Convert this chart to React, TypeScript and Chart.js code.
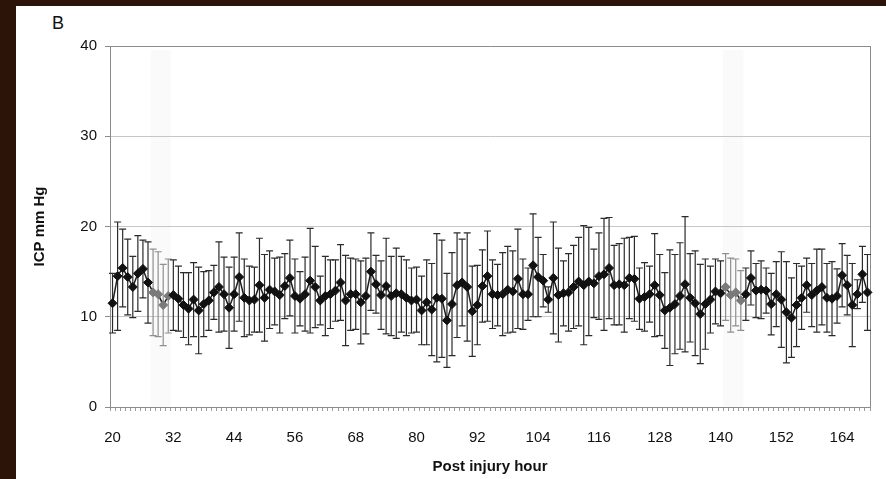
import React, { useEffect, useRef } from "react";
import { Chart, registerables } from "chart.js";

Chart.register(...registerables);

// Post-injury hours (categories), one per hour
const HOURS: number[] = Array.from({ length: 150 }, (_, i) => 20 + i);

// Mean ICP (mm Hg) per hour
const MEAN_ICP: number[] = [
  11.5, 14.5, 15.4, 14.4, 13.3, 14.8, 15.3, 13.8, 12.7, 12.5,
  11.3, 12.3, 12.4, 12.0, 11.3, 10.9, 11.9, 10.7, 11.4, 11.8,
  12.7, 13.3, 12.5, 11.0, 12.5, 14.4, 12.1, 11.8, 11.9, 13.5,
  12.1, 13.0, 12.8, 12.4, 13.4, 14.3, 12.3, 12.0, 12.5, 14.0,
  13.3, 11.8, 12.3, 12.5, 12.9, 13.8, 11.8, 12.5, 12.5, 11.6,
  12.3, 15.0, 13.6, 12.4, 13.4, 12.3, 12.6, 12.5, 12.1, 11.8,
  11.9, 10.7, 11.6, 10.8, 12.1, 12.0, 9.6, 11.4, 13.5, 13.8,
  13.3, 10.6, 11.3, 13.4, 14.5, 12.5, 12.4, 12.5, 13.0, 12.8,
  14.2, 12.5, 12.5, 15.7, 14.4, 14.0, 11.9, 14.3, 12.4, 12.6,
  12.7, 13.3, 13.9, 13.5, 13.9, 13.7, 14.5, 14.7, 15.4, 13.5,
  13.6, 13.5, 14.3, 14.2, 12.0, 12.2, 12.5, 13.5, 12.4, 10.7,
  11.0, 11.4, 12.3, 13.6, 12.1, 11.5, 10.3, 11.4, 11.9, 12.8,
  12.6, 13.3, 12.4, 12.7, 11.8, 12.5, 14.3, 12.9, 13.0, 12.9,
  11.4, 12.5, 11.9, 10.5, 9.9, 11.3, 12.1, 13.5, 12.4, 12.9,
  13.3, 12.1, 12.0, 12.3, 14.6, 13.5, 11.3, 12.5, 14.7, 12.7,
];

// Error bar half-length (SD, mm Hg) per hour
const SD_ICP: number[] = [
  3.3, 6.0, 4.3, 4.2, 3.4, 4.2, 3.2, 4.5, 4.8, 4.7,
  4.5, 4.1, 3.9, 3.6, 3.6, 4.0, 4.1, 4.8, 3.6, 3.3,
  3.0, 5.0, 4.1, 4.5, 4.1, 4.9, 4.3, 3.8, 3.6, 5.2,
  4.8, 4.3, 3.7, 4.2, 3.6, 4.2, 4.1, 3.0, 4.1, 5.8,
  4.5, 2.7, 4.4, 3.8, 3.4, 4.2, 5.0, 4.0, 3.9, 4.6,
  4.2, 4.3, 3.2, 3.8, 5.3, 4.4, 5.0, 4.2, 4.2, 3.6,
  3.6, 3.8, 4.7, 5.1, 7.1, 6.5, 5.2, 5.7, 5.8, 4.8,
  6.0, 5.0, 4.4, 4.0, 5.0, 3.8, 3.4, 4.6, 4.8, 4.5,
  5.5, 3.9, 2.9, 5.7, 4.4, 2.9, 1.4, 6.2, 5.2, 3.6,
  4.3, 4.6, 4.9, 6.6, 6.0, 3.8, 4.8, 6.2, 5.6, 4.4,
  4.5, 5.2, 4.5, 4.7, 3.4, 3.8, 3.1, 5.7, 4.5, 4.2,
  6.4, 5.5, 5.9, 7.5, 4.9, 5.8, 5.5, 5.0, 3.7, 3.6,
  3.6, 3.7, 4.1, 3.7, 3.3, 2.9, 3.0, 3.0, 3.2, 2.5,
  3.4, 3.6, 5.3, 5.6, 4.4, 4.6, 3.5, 3.0, 3.5, 4.6,
  4.2, 3.8, 4.1, 3.0, 3.5, 3.3, 4.6, 1.6, 3.1, 4.2,
];

const Y_MIN = 0;
const Y_MAX = 40;
const Y_STEP = 10;
const X_LABEL_EVERY = 12;
// hours whose markers appear faded in the original scan
const FADED_HOURS: number[] = [28, 29, 30, 31, 141, 142, 143, 144];

const FONT = '"Liberation Sans", Arial, Helvetica, sans-serif';

const isFaded = (i: number) => FADED_HOURS.includes(HOURS[i]);

const bandPlugin = {
  id: "fadeBands",
  beforeDraw(chart: any) {
    const { ctx, chartArea } = chart;
    const xs = chart.scales.x;
    const groups: number[][] = [];
    FADED_HOURS.forEach((h) => {
      const idx = HOURS.indexOf(h);
      const last = groups[groups.length - 1];
      if (last && idx === last[last.length - 1] + 1) last.push(idx);
      else groups.push([idx]);
    });
    ctx.save();
    ctx.fillStyle = "#fafafa";
    groups.forEach((g) => {
      const x0 = xs.getPixelForValue(g[0] - 0.5);
      const x1 = xs.getPixelForValue(g[g.length - 1] + 0.5);
      ctx.fillRect(x0, chartArea.top + 4, x1 - x0, chartArea.bottom - chartArea.top - 4);
    });
    ctx.restore();
  },
};

const errorBarPlugin = {
  id: "errorBars",
  beforeDatasetsDraw(chart: any) {
    const { ctx, chartArea } = chart;
    const xs = chart.scales.x;
    const ys = chart.scales.y;
    ctx.save();
    // plot frame (right side)
    ctx.strokeStyle = "#8c8c8c";
    ctx.lineWidth = 1;
    ctx.beginPath();
    ctx.moveTo(Math.round(chartArea.right) + 0.5, chartArea.top);
    ctx.lineTo(Math.round(chartArea.right) + 0.5, chartArea.bottom);
    ctx.stroke();
    MEAN_ICP.forEach((m, i) => {
      const x = xs.getPixelForValue(i);
      const top = ys.getPixelForValue(m + SD_ICP[i]);
      const bot = ys.getPixelForValue(m - SD_ICP[i]);
      ctx.strokeStyle = isFaded(i) ? "#8f8f8f" : "#2b2b2b";
      ctx.lineWidth = 1.2;
      ctx.beginPath();
      ctx.moveTo(x, top);
      ctx.lineTo(x, bot);
      ctx.moveTo(x - 3.5, top);
      ctx.lineTo(x + 3.5, top);
      ctx.moveTo(x - 3.5, bot);
      ctx.lineTo(x + 3.5, bot);
      ctx.stroke();
    });
    ctx.restore();
  },
};

export default function App() {
  const canvasRef = useRef<HTMLCanvasElement | null>(null);

  useEffect(() => {
    if (!canvasRef.current) return;
    const pointColors = MEAN_ICP.map((_, i) => (isFaded(i) ? "#7a7a7a" : "#111111"));
    const chart = new Chart(canvasRef.current, {
      type: "line",
      data: {
        labels: HOURS.map(String),
        datasets: [
          {
            data: MEAN_ICP,
            borderColor: "#1c1c1c",
            borderWidth: 1.5,
            pointStyle: "rectRot",
            pointRadius: 4.5,
            pointBackgroundColor: pointColors,
            pointBorderColor: pointColors,
            pointBorderWidth: 1,
            tension: 0,
          },
        ],
      },
      options: {
        responsive: false,
        animation: false,
        layout: { padding: { left: 0, right: 16, top: 40, bottom: 0 } },
        plugins: { legend: { display: false }, tooltip: { enabled: false } },
        scales: {
          x: {
            type: "category",
            offset: true,
            grid: {
              display: true,
              offset: true,
              drawOnChartArea: false,
              drawTicks: true,
              tickLength: 4,
              color: "#9a9a9a",
              tickColor: "#9a9a9a",
            },
            border: { display: true, color: "#8c8c8c", width: 1 },
            ticks: {
              autoSkip: false,
              maxRotation: 0,
              minRotation: 0,
              padding: 18,
              color: "#111",
              font: { family: FONT, size: 15 },
              callback: (_v: any, i: number) => (i % X_LABEL_EVERY === 0 ? String(HOURS[i]) : ""),
            },
            title: {
              display: true,
              text: "Post injury hour",
              color: "#111",
              font: { family: FONT, size: 15, weight: "bold" },
              padding: { top: 0, bottom: 3 },
            },
            afterFit: (s: any) => {
              s.height = 72;
            },
          } as any,
          y: {
            min: Y_MIN,
            max: Y_MAX,
            ticks: {
              stepSize: Y_STEP,
              padding: 8,
              color: "#111",
              font: { family: FONT, size: 15 },
            },
            grid: {
              color: (c: any) => (c.tick && c.tick.value === Y_MAX ? "#8c8c8c" : "#c6c6c6"),
              tickLength: 5,
              tickColor: "#8c8c8c",
            },
            border: { display: true, color: "#8c8c8c", width: 1 },
            title: {
              display: true,
              text: "ICP mm Hg",
              color: "#111",
              font: { family: FONT, size: 15, weight: "bold" },
              padding: { top: 15, bottom: 0 },
            },
            afterFit: (s: any) => {
              s.width = 94;
            },
          } as any,
        },
      },
      plugins: [bandPlugin, errorBarPlugin],
    });
    return () => chart.destroy();
  }, []);

  return (
    <div
      style={{
        position: "fixed",
        left: 0,
        top: 0,
        width: 886,
        height: 479,
        background: "#2c1508",
        overflow: "hidden",
      }}
    >
      <div
        style={{
          position: "absolute",
          left: 16,
          top: 6,
          width: 870,
          height: 473,
          background: "#ffffff",
        }}
      >
        <div
          style={{
            position: "absolute",
            left: 36,
            top: 7,
            fontFamily: FONT,
            fontSize: 18,
            color: "#111",
            lineHeight: "20px",
          }}
        >
          B
        </div>
        <canvas
          ref={canvasRef}
          width={870}
          height={473}
          style={{ position: "absolute", left: 0, top: 0, width: 870, height: 473 }}
        />
      </div>
    </div>
  );
}
